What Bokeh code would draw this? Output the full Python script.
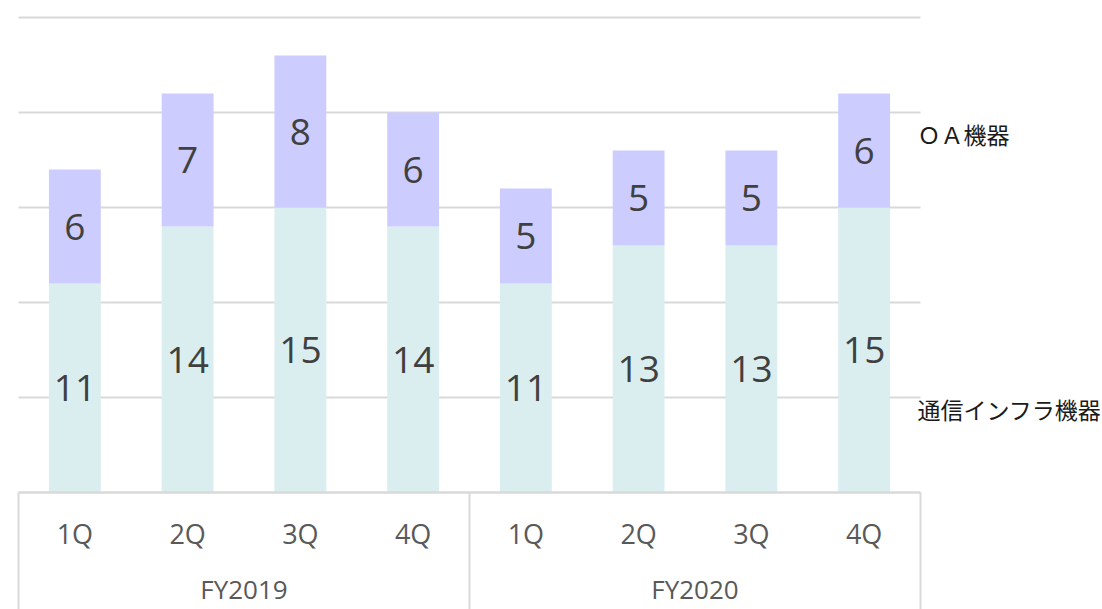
from bokeh.plotting import figure
from bokeh.models import ColumnDataSource, Range1d
from bokeh.core.properties import value
from bokeh.embed import file_html
from bokeh.resources import INLINE

# ---- data ----
years = ["FY2019", "FY2020"]
quarters = ["1Q", "2Q", "3Q", "4Q", "1Q", "2Q", "3Q", "4Q"]
year_of = ["FY2019"] * 4 + ["FY2020"] * 4
infra = [11, 14, 15, 14, 11, 13, 13, 15]   # 通信インフラ機器
oa = [6, 7, 8, 6, 5, 5, 5, 6]              # ＯＡ機器
series_names = ["通信インフラ機器", "ＯＡ機器"]
y_ticks = [0, 5, 10, 15, 20, 25]

# ---- style ----
C_INFRA = "#DAEEF0"
C_OA = "#CCCCFF"
GRID = "#D9D9D9"
W, H = 1102, 609
PX_X = 112.75   # pixels per category
PX_Y = 19.0     # pixels per unit
LEFT, RIGHT_EDGE = 18, 920
BASE, TOP_GRID = 492, 17

n = len(quarters)
xs = list(range(n))
x0 = -0.5 - LEFT / PX_X
x1 = (n - 0.5) + (W - RIGHT_EDGE) / PX_X
y1 = y_ticks[-1] + TOP_GRID / PX_Y
y0 = -(H - BASE) / PX_Y

p = figure(width=W, height=H, output_backend="svg", toolbar_location=None,
           x_range=Range1d(x0, x1), y_range=Range1d(y0, y1),
           x_axis_type=None, y_axis_type=None, min_border=0)
p.outline_line_color = None
p.xgrid.visible = False
p.ygrid.visible = False
p.background_fill_color = "white"

# gridlines (horizontal) across the category span
gl = [t for t in y_ticks if t > 0]
p.segment(x0=[-0.5] * len(gl), x1=[n - 0.5] * len(gl), y0=gl, y1=gl,
          line_color=GRID, line_width=2)

src = ColumnDataSource(dict(
    x=xs, infra=infra, oa=oa,
    infra_mid=[v / 2 for v in infra],
    oa_mid=[a + b / 2 for a, b in zip(infra, oa)],
    infra_txt=[str(v) for v in infra],
    oa_txt=[str(v) for v in oa],
    q=quarters,
))

p.vbar_stack(["infra", "oa"], x="x", width=0.46, source=src,
             color=[C_INFRA, C_OA], line_color=None)

# axis baseline
p.segment(x0=[-0.5], x1=[n - 0.5], y0=[0], y1=[0], line_color=GRID, line_width=2.5)

# group separators (category axis box)
groups_idx = [[i for i in xs if year_of[i] == y] for y in years]
sep_x = [-0.5] + [g[-1] + 0.5 for g in groups_idx]
p.segment(x0=sep_x, x1=sep_x, y0=[0] * len(sep_x), y1=[y0] * len(sep_x),
          line_color=GRID, line_width=2)

num_font = value("Open Sans")
p.text(x="x", y="infra_mid", text="infra_txt", source=src, text_align="center",
       text_baseline="middle", text_font=num_font, text_font_size=value("37px"),
       text_color="#404040")
p.text(x="x", y="oa_mid", text="oa_txt", source=src, text_align="center",
       text_baseline="middle", text_font=num_font, text_font_size=value("37px"),
       text_color="#404040")

# category labels
p.text(x="x", y=-(533 - BASE) / PX_Y, text="q", source=src, text_align="center",
       text_baseline="middle", text_font=num_font, text_font_size=value("27px"),
       text_color="#595959")
year_x = [sum(g) / len(g) for g in groups_idx]
p.text(x=year_x, y=[-(588 - BASE) / PX_Y] * len(years), text=years, text_align="center",
       text_baseline="middle", text_font=num_font, text_font_size=value("26px"),
       text_color="#595959")

# series labels on the right
leg_y = [(BASE - 408) / PX_Y, (BASE - 133) / PX_Y]
p.text(x=[n - 0.5] * 2, y=leg_y, text=series_names, text_align="left",
       text_baseline="middle", x_offset=-3, text_font=value("Noto Sans CJK JP"),
       text_font_size=value("23px"), text_color="#1a1a1a")

open("out.html", "w").write(file_html(p, INLINE))
